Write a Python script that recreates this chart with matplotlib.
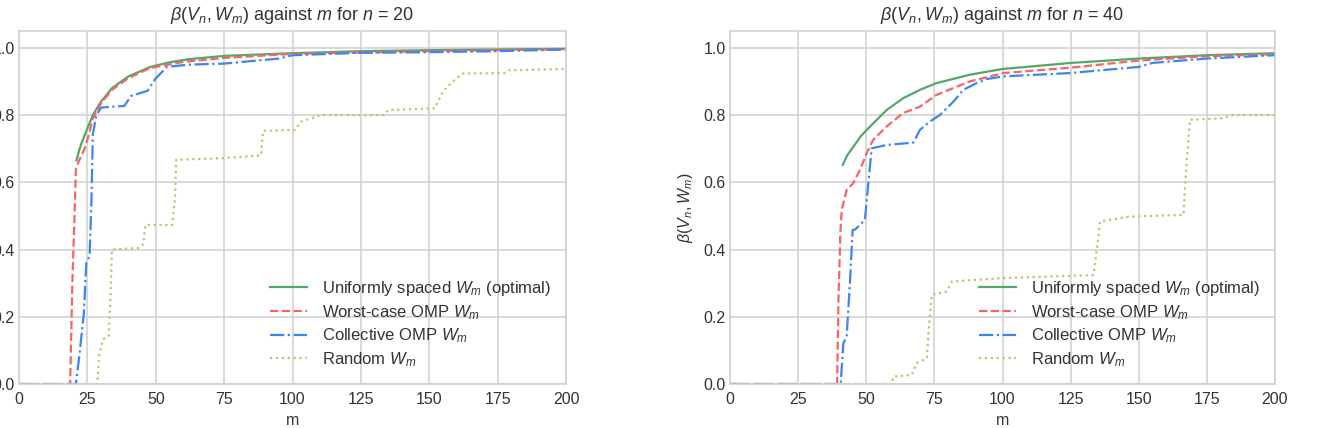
import matplotlib
matplotlib.use("Agg")
import matplotlib.pyplot as plt

# ---------------- data ----------------
# n = 20
m_opt20 = [21, 22, 23, 24, 25, 27, 30, 34, 40, 48, 55, 62, 75, 100, 125, 150, 175, 200]
b_opt20 = [0.665, 0.695, 0.72, 0.74, 0.76, 0.80, 0.84, 0.88, 0.915, 0.943, 0.957, 0.966, 0.976,
           0.984, 0.99, 0.993, 0.995, 0.997]

m_wc20 = [0, 18.7, 19.5, 20.3, 20.8, 22, 24, 25.5, 27, 30, 34, 40, 48, 60, 75, 100, 150, 200]
b_wc20 = [0, 0, 0.3, 0.5, 0.64, 0.665, 0.70, 0.74, 0.79, 0.835, 0.875, 0.91, 0.94, 0.958, 0.97,
          0.982, 0.99, 0.996]

m_col20 = [0, 20.8, 22.2, 23.7, 24.6, 25.8, 26.5, 27, 28.3, 30, 34, 38.5, 41, 47, 49.7, 54, 62,
           75, 95, 100, 125, 150, 175, 200]
b_col20 = [0, 0, 0.094, 0.21, 0.36, 0.38, 0.55, 0.743, 0.80, 0.822, 0.825, 0.827, 0.857, 0.872,
           0.906, 0.943, 0.950, 0.953, 0.968, 0.978, 0.985, 0.987, 0.99, 0.995]

m_rnd20 = [0, 28.6, 29.3, 30.7, 32.8, 33.4, 34, 44, 45.5, 46.2, 56, 57, 57.5, 75, 88.5, 89.2, 101,
           103, 108.7, 110, 133.5, 135, 152, 155, 158, 162, 177.6, 179, 200]
b_rnd20 = [0, 0, 0.084, 0.133, 0.143, 0.25, 0.40, 0.405, 0.417, 0.473, 0.473, 0.55, 0.667, 0.672,
           0.68, 0.753, 0.756, 0.78, 0.795, 0.80, 0.80, 0.815, 0.82, 0.87, 0.895, 0.923, 0.925,
           0.933, 0.937]

# n = 40
m_opt40 = [41.4, 43, 45.3, 48, 51.4, 57.5, 63.5, 69.7, 75.8, 88, 100, 125, 150, 175, 200]
b_opt40 = [0.652, 0.68, 0.706, 0.737, 0.766, 0.815, 0.85, 0.875, 0.895, 0.92, 0.937, 0.955, 0.968,
           0.978, 0.984]

m_wc40 = [0, 39.3, 39.8, 40.5, 41, 42.8, 45.2, 47.7, 50.2, 52.5, 57.5, 63.5, 69.7, 75.8, 88, 100.3,
          125, 150, 175, 200]
b_wc40 = [0, 0, 0.25, 0.45, 0.518, 0.577, 0.597, 0.637, 0.687, 0.726, 0.766, 0.806, 0.825, 0.86,
          0.90, 0.925, 0.941, 0.962, 0.975, 0.981]

m_col40 = [0, 40.6, 41.6, 42.8, 44, 45, 46, 49.5, 50.8, 52, 57.5, 67.3, 69.7, 73.4, 77, 82, 85.6,
           90.5, 94.2, 100.3, 125, 135.6, 150, 155, 175, 200]
b_col40 = [0, 0, 0.121, 0.141, 0.30, 0.458, 0.46, 0.488, 0.60, 0.701, 0.711, 0.718, 0.756, 0.781,
           0.80, 0.84, 0.875, 0.895, 0.907, 0.915, 0.925, 0.933, 0.943, 0.955, 0.968, 0.978]

m_rnd40 = [0, 59.3, 60, 66.7, 68.5, 72.2, 73, 74, 79.5, 81.4, 100, 133.3, 134.6, 135.8, 146.8,
           166.4, 167.5, 168.8, 180, 184.6, 200]
b_rnd40 = [0, 0, 0.022, 0.027, 0.062, 0.076, 0.17, 0.265, 0.275, 0.305, 0.315, 0.324, 0.40, 0.483,
           0.498, 0.503, 0.65, 0.786, 0.79, 0.80, 0.80]

n_values = [20, 40]
labels = [r"Uniformly spaced $W_m$ (optimal)", r"Worst-case OMP $W_m$",
          r"Collective OMP $W_m$", r"Random $W_m$"]
x_ticks = [0, 25, 50, 75, 100, 125, 150, 175, 200]
y_ticks = [0.0, 0.2, 0.4, 0.6, 0.8, 1.0]

# ---------------- style ----------------
plt.rcParams['font.family'] = ['Liberation Sans', 'DejaVu Sans']
plt.rcParams['mathtext.fontset'] = 'custom'
plt.rcParams['mathtext.rm'] = 'Liberation Sans'
plt.rcParams['mathtext.it'] = 'Liberation Sans:italic'
plt.rcParams['mathtext.bf'] = 'Liberation Sans:bold'

text_col = '#333333'
grid_col = '#d0d0d0'
colors = ['#55a66a', '#f76563', '#3d85f5', '#c4bf72']
styles = ['-', '--', '-.', ':']

fig = plt.figure(figsize=(13.39, 4.28), dpi=100)
W, H = 1339, 428
axes = [fig.add_axes([19 / W, 44 / H, 547 / W, 353 / H]),
        fig.add_axes([730 / W, 44 / H, 545 / W, 353 / H])]

series = [
    [(m_opt20, b_opt20), (m_wc20, b_wc20), (m_col20, b_col20), (m_rnd20, b_rnd20)],
    [(m_opt40, b_opt40), (m_wc40, b_wc40), (m_col40, b_col40), (m_rnd40, b_rnd40)],
]

for ax, n, ser in zip(axes, n_values, series):
    ax.set_facecolor('white')
    for (mx, by), c, ls, lab in zip(ser, colors, styles, labels):
        ax.plot(mx, by, color=c, linestyle=ls, linewidth=1.6, label=lab)
    ax.set_xlim(0, 200)
    ax.set_ylim(0, 1.05)
    ax.set_xticks(x_ticks)
    ax.set_yticks(y_ticks)
    ax.set_yticklabels([f"{v:.1f}" for v in y_ticks])
    ax.grid(True, color=grid_col, linewidth=1.1)
    ax.set_axisbelow(True)
    for s in ax.spines.values():
        s.set_color(grid_col)
        s.set_linewidth(1.1)
    ax.tick_params(length=0, labelsize=11.5, labelcolor=text_col)
    ax.tick_params(axis='x', pad=6)
    ax.tick_params(axis='y', pad=3)
    ax.set_xlabel('m', fontsize=11.5, color=text_col, labelpad=4)
    ax.set_ylabel(r'$\beta(V_n, W_m)$', fontsize=11.5, color=text_col, labelpad=6)
    ax.set_title(r'$\beta(V_n, W_m)$ against $m$ for $n$ = %d' % n, fontsize=13,
                 color=text_col, pad=8)
    ax.legend(loc='lower right', frameon=False, fontsize=12, handlelength=2.2,
              labelspacing=0.3, handletextpad=0.9, labelcolor=text_col)

fig.savefig('out.png', dpi=100, facecolor='white')
